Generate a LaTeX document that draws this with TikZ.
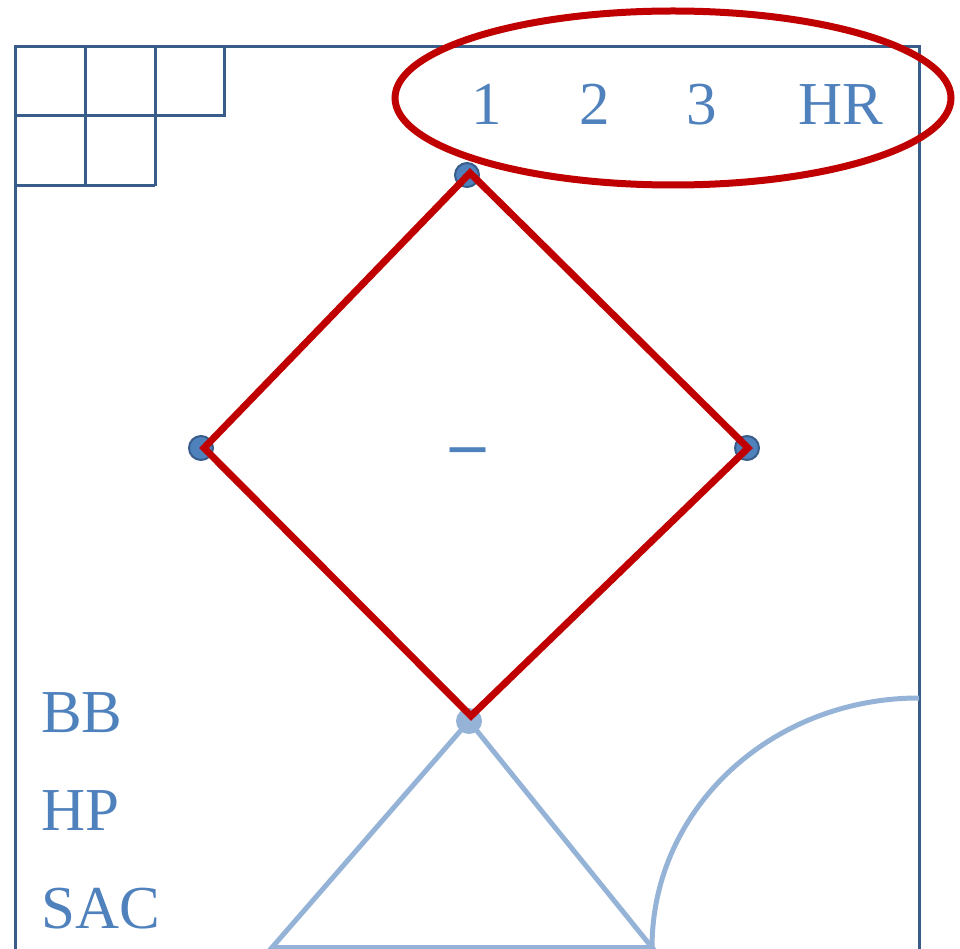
\documentclass[tikz,border=0pt]{standalone}
\usepackage{fontspec}
\setmainfont{Liberation Serif}
\definecolor{frameblue}{HTML}{385D8A}
\definecolor{txtblue}{HTML}{4F81BD}
\definecolor{lightblue}{HTML}{95B3D7}
\definecolor{darkred}{HTML}{C00000}
\begin{document}
\begin{tikzpicture}[x=1pt,y=-1pt,
  framestyle/.style={draw=frameblue,line width=3pt},
  redline/.style={draw=darkred,line width=7pt,line join=miter},
  lightline/.style={draw=lightblue,line width=5pt},
  bluedot/.style={circle,fill=txtblue,draw=frameblue,line width=2pt,minimum size=24pt,inner sep=0pt},
  lightdot/.style={circle,fill=lightblue,minimum size=26pt,inner sep=0pt},
  lbl/.style={text=txtblue,inner sep=0pt,font=\fontsize{61}{61}\selectfont}]
\useasboundingbox (0,0) rectangle (960,949);
\clip (0,0) rectangle (960,949);
% frame
\draw[framestyle] (15,980) -- (15,46.5) -- (919,46.5) -- (919,980);
% grid in corner
\draw[framestyle] (15,116) -- (224,116) -- (224,46.5);
\draw[framestyle] (85,46.5) -- (85,186);
\draw[framestyle] (155,46.5) -- (155,186);
\draw[framestyle] (15,186) -- (155,186);
% dots
\node[bluedot] (dtop) at (467,175) {};
\node[bluedot] (dleft) at (201,448) {};
\node[bluedot] (dright) at (747,448) {};
\node[lightdot] (dbot) at (469,721) {};
% field lines
\coordinate (bl) at (272,947.5);
\coordinate (br) at (652,947.5);
\coordinate (ar) at (919,698);
\draw[lightline,line join=miter] (bl) -- (dbot.center) -- (br) -- cycle;
\draw[lightline] (br) .. controls (652,809) and (771,698) .. (ar);
% diamond
\coordinate (vt) at (470,173);
\coordinate (vl) at (204,448);
\coordinate (vr) at (748,448);
\coordinate (vb) at (471,716);
\draw[redline] (vt) -- (vr) -- (vb) -- (vl) -- cycle;
% ellipse
\draw[draw=darkred,line width=7pt] (673,98) ellipse [x radius=278, y radius=87];
% labels
\node[lbl,anchor=base] (n1) at (487,125) {1};
\node[lbl,anchor=base] (n2) at (595,125) {2};
\node[lbl,anchor=base] (n3) at (702,125) {3};
\node[lbl,anchor=base] (nhr) at (841,125) {HR};
\node[lbl,anchor=base west] (bb) at (41,732) {BB};
\node[lbl,anchor=base west] (hp) at (41,830) {HP};
\node[lbl,anchor=base west] (sac) at (41,928) {SAC};
\node[text=txtblue,inner sep=0pt,anchor=base,font=\fontsize{70}{70}\selectfont\bfseries] (minus) at (468,466) {–};
\end{tikzpicture}
\end{document}
